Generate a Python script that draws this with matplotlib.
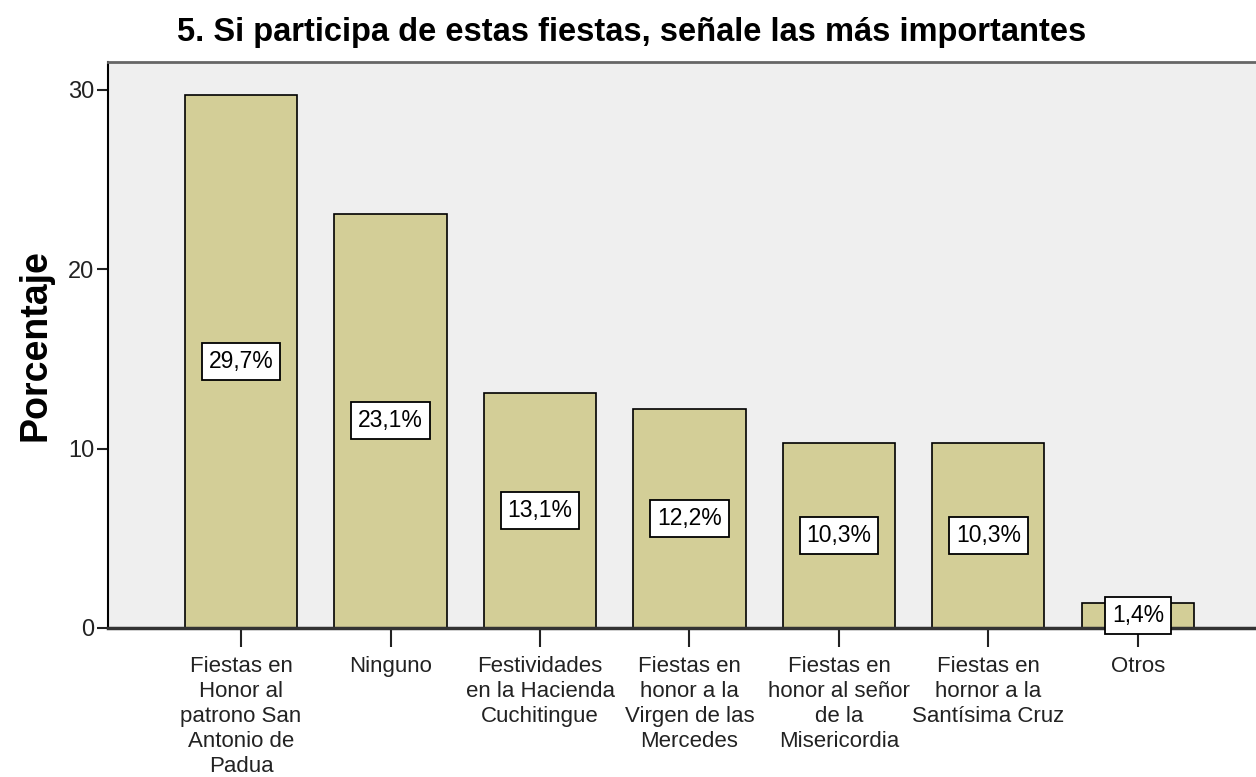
import matplotlib.pyplot as plt
import numpy as np

plt.rcParams['font.family'] = ['Liberation Sans', 'DejaVu Sans']

categorias = ['Fiestas en\nHonor al\npatrono San\nAntonio de\nPadua',
              'Ninguno',
              'Festividades\nen la Hacienda\nCuchitingue',
              'Fiestas en\nhonor a la\nVirgen de las\nMercedes',
              'Fiestas en\nhonor al señor\nde la\nMisericordia',
              'Fiestas en\nhornor a la\nSantísima Cruz',
              'Otros']
porcentajes = [29.7, 23.1, 13.1, 12.2, 10.3, 10.3, 1.4]
etiquetas = ['29,7%', '23,1%', '13,1%', '12,2%', '10,3%', '10,3%', '1,4%']

fig = plt.figure(figsize=(12.56, 7.77), dpi=100)
ax = fig.add_axes([0.086, 0.192, 0.914, 0.728])
ax.set_facecolor('#efefef')

x = np.arange(len(porcentajes))
ax.bar(x, porcentajes, width=0.75, color='#d3ce97', edgecolor='black', linewidth=1.2, zorder=2)

for xi, v, t in zip(x, porcentajes, etiquetas):
    ax.text(xi, v / 2, t, ha='center', va='center', fontsize=16.5, zorder=3,
            bbox=dict(boxstyle='square,pad=0.3', fc='white', ec='black', lw=1.3))

ax.set_xlim(-0.89, 6.79)
ax.set_ylim(0, 31.55)
ax.set_yticks([0, 10, 20, 30])
ax.set_xticks(x)
ax.set_xticklabels(categorias, fontsize=16, linespacing=1.25)
ax.tick_params(axis='y', labelsize=17, length=8, width=1.5, colors='#222222', pad=2)
ax.tick_params(axis='x', length=14, width=1.5, pad=6, colors='#222222')

ax.spines['right'].set_visible(False)
ax.spines['top'].set_color('#666666')
ax.spines['top'].set_linewidth(2)
ax.spines['left'].set_linewidth(1.5)
ax.spines['bottom'].set_linewidth(2.5)
ax.spines['bottom'].set_color('#333333')

ax.set_ylabel('Porcentaje', fontsize=27, fontweight='bold', labelpad=10)
fig.text(0.503, 0.958, '5. Si participa de estas fiestas, señale las más importantes',
         ha='center', va='center', fontsize=23.5, fontweight='bold')

fig.savefig('out.png', dpi=100)
